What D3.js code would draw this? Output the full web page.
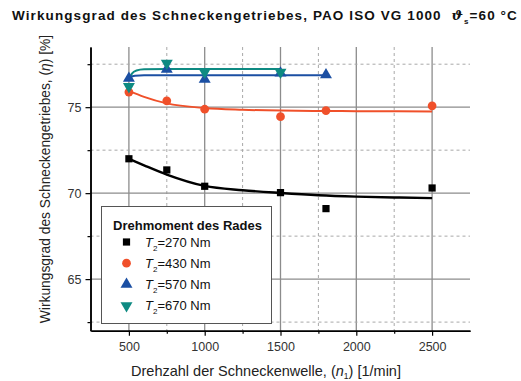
<!DOCTYPE html>
<html>
<head>
<meta charset="utf-8">
<script src="https://cdn.jsdelivr.net/npm/d3@7/dist/d3.min.js"></script>
<style>
  html, body { margin: 0; padding: 0; background: #fff; }
  svg { display: block; font-family: "Liberation Sans", Arial, sans-serif; }
</style>
</head>
<body>
<svg id="chart" width="521" height="381"></svg>
<script>
// Measured efficiency values per torque level (speed in 1/min, efficiency in %)
const speeds270 = [500, 750, 1000, 1500, 1800, 2500];
const eta270    = [72.0, 71.35, 70.4, 70.03, 69.1, 70.3];
const speeds430 = [500, 750, 1000, 1500, 1800, 2500];
const eta430    = [75.88, 75.37, 74.88, 74.45, 74.8, 75.08];
const speeds570 = [500, 750, 1000, 1500, 1800];
const eta570    = [76.68, 77.2, 76.62, 76.98, 76.88];
const speeds670 = [500, 750, 1000, 1500];
const eta670    = [76.2, 77.56, 77.04, 77.04];

// Fitted trend curves
const fit270x = [500, 600, 750, 1000, 1250, 1500, 1750, 2000, 2250, 2500];
const fit270y = [72.0, 71.62, 71.08, 70.42, 70.17, 70.01, 69.88, 69.8, 69.75, 69.71];
const fit430x = [500, 600, 750, 1000, 1250, 1500, 1800, 2000, 2500];
const fit430y = [75.95, 75.6, 75.22, 74.95, 74.85, 74.8, 74.78, 74.77, 74.75];
const fit570x = [500, 540, 600, 1000, 1500, 1800];
const fit570y = [76.72, 76.83, 76.86, 76.86, 76.86, 76.86];
const fit670x = [500, 520, 550, 600, 750, 1000, 1500];
const fit670y = [76.55, 76.95, 77.13, 77.2, 77.22, 77.22, 77.22];

const xMajorTicks = [500, 1000, 1500, 2000, 2500];
const xMinorTicks = [750, 1250, 1750, 2250];
const yMajorTicks = [65, 70, 75];
const yMinorTicks = [62.5, 67.5, 72.5, 77.5];

const legendTorques = ["270", "430", "570", "670"];

const colors = ["#000000", "#f0502a", "#1b4fa3", "#0e8a82"];
const symbols = [d3.symbolSquare, d3.symbolCircle, d3.symbolTriangle, d3.symbolTriangle];
const symbolSizes = [52, 60, 62, 62];
const symbolRot = [0, 0, 0, 180];

const svg = d3.select("#chart");

const x = d3.scaleLinear().domain([250, 2750]).range([91, 470]);
const y = d3.scaleLinear().domain([62, 78.5]).range([330.7, 47]);

const plotLeft = x.range()[0] - 0.5, plotRight = x.range()[1];
const plotTop = y.range()[1], plotBottom = y.range()[0];

// Grid
const grid = svg.append("g");
grid.selectAll(".vmaj").data(xMajorTicks).join("line")
  .attr("x1", d => x(d)).attr("x2", d => x(d))
  .attr("y1", plotTop).attr("y2", plotBottom)
  .attr("stroke", "#8c8c8c").attr("stroke-width", 1.3);
grid.selectAll(".vmin").data(xMinorTicks).join("line")
  .attr("x1", d => x(d)).attr("x2", d => x(d))
  .attr("y1", plotTop).attr("y2", plotBottom)
  .attr("stroke", "#a8a8a8").attr("stroke-width", 1).attr("stroke-dasharray", "3,3");
grid.selectAll(".hmaj").data(yMajorTicks).join("line")
  .attr("x1", plotLeft).attr("x2", plotRight)
  .attr("y1", d => y(d)).attr("y2", d => y(d))
  .attr("stroke", "#8c8c8c").attr("stroke-width", 1.3);
grid.selectAll(".hmin").data(yMinorTicks).join("line")
  .attr("x1", plotLeft).attr("x2", plotRight)
  .attr("y1", d => y(d)).attr("y2", d => y(d))
  .attr("stroke", "#a8a8a8").attr("stroke-width", 1).attr("stroke-dasharray", "3,3");

// Axes
const xAxis = d3.axisBottom(x).tickValues(xMajorTicks).tickFormat(d3.format("d"))
  .tickSize(5).tickPadding(6).tickSizeOuter(0);
const xAxisMinor = d3.axisBottom(x).tickValues(xMinorTicks).tickSize(3).tickFormat("").tickSizeOuter(0);
const yAxis = d3.axisLeft(y).tickValues(yMajorTicks).tickFormat(d3.format("d"))
  .tickSize(5).tickPadding(4).tickSizeOuter(0);
const yAxisMinor = d3.axisLeft(y).tickValues(yMinorTicks).tickSize(3).tickFormat("").tickSizeOuter(0);

function styleAxis(g) {
  g.select(".domain").attr("stroke", "#000").attr("stroke-width", 1.5);
  g.selectAll(".tick line").attr("stroke", "#000").attr("stroke-width", 1.2);
  g.selectAll(".tick text").attr("fill", "#333").attr("font-size", 12.5)
    .attr("font-family", "Liberation Sans, Arial, sans-serif");
}
svg.append("g").attr("transform", `translate(0,${plotBottom})`).call(xAxisMinor).call(styleAxis);
svg.append("g").attr("transform", `translate(0,${plotBottom})`).call(xAxis).call(styleAxis);
svg.append("g").attr("transform", `translate(${plotLeft},0)`).call(yAxisMinor).call(styleAxis);
svg.append("g").attr("transform", `translate(${plotLeft},0)`).call(yAxis).call(styleAxis);

// Fit curves
const line = d3.line().x(d => x(d[0])).y(d => y(d[1])).curve(d3.curveMonotoneX);
const fits = [
  [fit270x, fit270y, 2.4],
  [fit430x, fit430y, 2],
  [fit570x, fit570y, 2],
  [fit670x, fit670y, 2]
];
fits.forEach(([fx, fy, w], i) => {
  svg.append("path")
    .datum(d3.zip(fx, fy))
    .attr("d", line)
    .attr("fill", "none")
    .attr("stroke", colors[i])
    .attr("stroke-width", w);
});

// Markers
const series = [
  [speeds270, eta270],
  [speeds430, eta430],
  [speeds570, eta570],
  [speeds670, eta670]
];
series.forEach(([sx, sy], i) => {
  const sym = d3.symbol().type(symbols[i]).size(symbolSizes[i]);
  svg.append("g").selectAll("path").data(d3.zip(sx, sy)).join("path")
    .attr("d", sym)
    .attr("transform", d => `translate(${x(d[0])},${y(d[1])}) rotate(${symbolRot[i]})`)
    .attr("fill", colors[i]);
});

// Legend
const lg = svg.append("g");
lg.append("rect").attr("x", 101.5).attr("y", 206.5).attr("width", 170).attr("height", 117)
  .attr("fill", "#fff").attr("stroke", "#555").attr("stroke-width", 1);
lg.append("text").attr("x", 187.5).attr("y", 229.5).attr("text-anchor", "middle")
  .attr("font-size", 13).attr("font-weight", "bold").attr("fill", "#111")
  .text("Drehmoment des Rades");
legendTorques.forEach((t, i) => {
  const yy = 242 + i * 21.2;
  lg.append("path")
    .attr("d", d3.symbol().type(symbols[i]).size(symbolSizes[i])())
    .attr("transform", `translate(126.5,${yy}) rotate(${symbolRot[i]})`)
    .attr("fill", colors[i]);
  const tx = lg.append("text").attr("x", 145).attr("y", yy + 4.5)
    .attr("font-size", 13).attr("fill", "#111");
  tx.append("tspan").attr("font-style", "italic").text("T");
  tx.append("tspan").attr("font-size", 8).attr("dy", 4).text("2");
  tx.append("tspan").attr("dy", -4).text(`=${t} Nm`);
});

// Title
const title = svg.append("text").attr("x", 12).attr("y", 20)
  .attr("font-size", 13.5).attr("font-weight", "bold").attr("fill", "#111")
  .attr("letter-spacing", 1.1);
title.append("tspan").text("Wirkungsgrad des Schneckengetriebes, PAO ISO VG 1000\u00a0\u00a0");
title.append("tspan").attr("font-style", "italic").attr("font-family", "DejaVu Serif, serif").text("\u03d1");
title.append("tspan").attr("font-size", 8).attr("dy", 4).attr("dx", 0).text("s");
title.append("tspan").attr("dy", -4).text("=60 \u00b0C");

// Axis titles
const xl = svg.append("text").attr("x", 266).attr("y", 376).attr("text-anchor", "middle")
  .attr("font-size", 14.5).attr("fill", "#222");
xl.append("tspan").text("Drehzahl der Schneckenwelle, (");
xl.append("tspan").attr("font-style", "italic").text("n");
xl.append("tspan").attr("font-size", 8.5).attr("dy", 3).text("1");
xl.append("tspan").attr("dy", -3).text(") [1/min]");

const yl = svg.append("text").attr("transform", "translate(50,179) rotate(-90)")
  .attr("text-anchor", "middle").attr("font-size", 13.8).attr("fill", "#222");
yl.append("tspan").text("Wirkungsgrad des Schneckengetriebes, (");
yl.append("tspan").attr("font-style", "italic").text("\u03b7");
yl.append("tspan").text(") [%]");
</script>
</body>
</html>
